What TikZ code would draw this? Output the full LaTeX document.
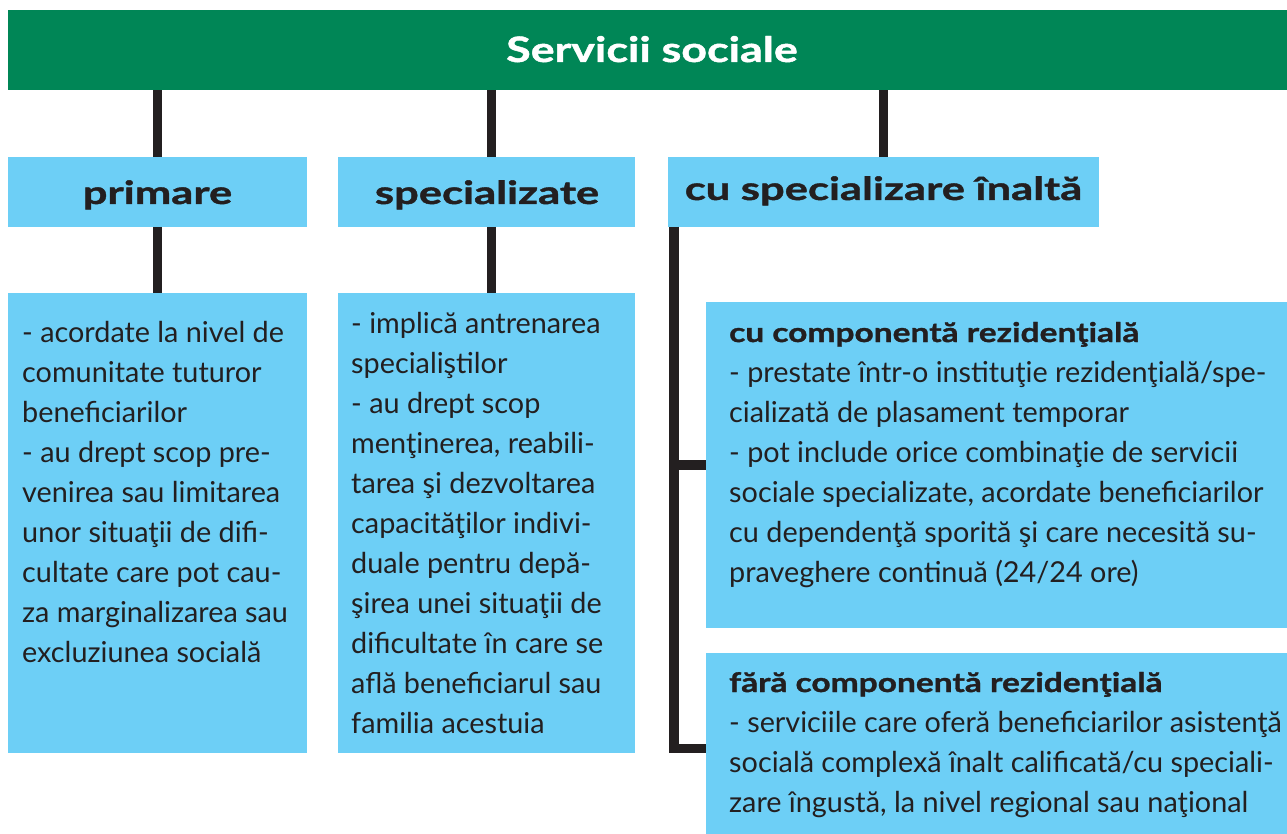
\documentclass[tikz,border=0pt]{standalone}
\usepackage{fontspec}
\setmainfont{Lato}
\newfontfamily\hdA[FakeStretch=1.28, BoldFeatures={FakeBold=1.3}]{Lato}
\newfontfamily\hdB[FakeStretch=1.36, BoldFeatures={FakeBold=1.3}]{Lato}
\newfontfamily\hdC[FakeStretch=1.24, BoldFeatures={FakeBold=1.2}]{Lato}
\definecolor{grn}{RGB}{0,134,86}
\definecolor{lblue}{RGB}{109,207,246}
\definecolor{ink}{RGB}{35,31,32}
\newcommand{\subhd}[1]{{\fontsize{27}{40}\hdC\bfseries #1}}
\begin{document}
\begin{tikzpicture}[x=1pt,y=-1pt,
  box/.style={fill=lblue, draw=none, inner sep=0pt, outer sep=0pt, anchor=north west},
  conn/.style={draw=ink, line width=9.5pt, line join=miter},
  body/.style={anchor=base west, inner sep=0pt, align=left, text=ink, font=\fontsize{28.8}{40}\selectfont},
  lvl/.style={anchor=base, inner sep=0pt, text=ink, font=\fontsize{32}{36}\hdB\bfseries},
 ]
\useasboundingbox (0,0) rectangle (1287,834);
% boxes
\node[box, fill=grn, minimum width=1279pt, minimum height=80pt] (hdr) at (8,10) {};
\node[box, minimum width=299pt, minimum height=70pt] (b1) at (8,157) {};
\node[box, minimum width=297pt, minimum height=70pt] (b2) at (338,157) {};
\node[box, minimum width=431pt, minimum height=70pt] (b3) at (668,157) {};
\node[box, minimum width=299pt, minimum height=460pt] (d1) at (8,293) {};
\node[box, minimum width=297pt, minimum height=460pt] (d2) at (338,293) {};
\node[box, minimum width=581pt, minimum height=326pt] (r1) at (706,302) {};
\node[box, minimum width=581pt, minimum height=181pt] (r2) at (706,653) {};
% connectors
\draw[conn] (b1.north) -- (b1.north |- hdr.south);
\draw[conn] ([xshift=5pt]b2.north) -- ([xshift=5pt]b2.north |- hdr.south);
\draw[conn] (b3.north) -- (b3.north |- hdr.south);
\draw[conn] (b1.south) -- (d1.north);
\draw[conn] ([xshift=5pt]b2.south) -- ([xshift=5pt]d2.north);
\coordinate (j) at ([xshift=6pt]b3.south west);
\draw[conn] (j) |- (r1.west);
\draw[conn] (j) |- ([yshift=-5pt]r2.west);
% texts
\node[anchor=base, inner sep=0pt, text=white, font=\fontsize{35}{40}\hdA\bfseries] (ht) at (652,62) {Servicii sociale};
\node[lvl] (t1) at (157.5,204) {primare};
\node[lvl] (t2) at (487,204) {specializate};
\node[lvl] (t3) at (883.5,200) {cu specializare înaltă};
\node[body] (x1) at (22,662) {- acordate la nivel de\\comunitate tuturor\\beneficiarilor\\- au drept scop pre-\\venirea sau limitarea\\unor situaţii de difi-\\cultate care pot cau-\\za marginalizarea sau\\excluziunea socială};
\node[body] (x2) at (351,733) {- implică antrenarea\\specialiştilor\\- au drept scop\\menţinerea, reabili-\\tarea şi dezvoltarea\\capacităţilor indivi-\\duale pentru depă-\\şirea unei situaţii de\\dificultate în care se\\află beneficiarul sau\\familia acestuia};
\node[body] (x3) at (729,582) {\subhd{cu componentă rezidenţială}\\- prestate într-o instituţie rezidenţială/spe-\\cializată de plasament temporar\\- pot include orice combinaţie de servicii\\sociale specializate, acordate beneficiarilor\\cu dependenţă sporită şi care necesită su-\\praveghere continuă (24/24 ore)};
\node[body] (x4) at (729,812) {\subhd{fără componentă rezidenţială}\\- serviciile care oferă beneficiarilor asistenţă\\socială complexă înalt calificată/cu speciali-\\zare îngustă, la nivel regional sau naţional};
\end{tikzpicture}
\end{document}
